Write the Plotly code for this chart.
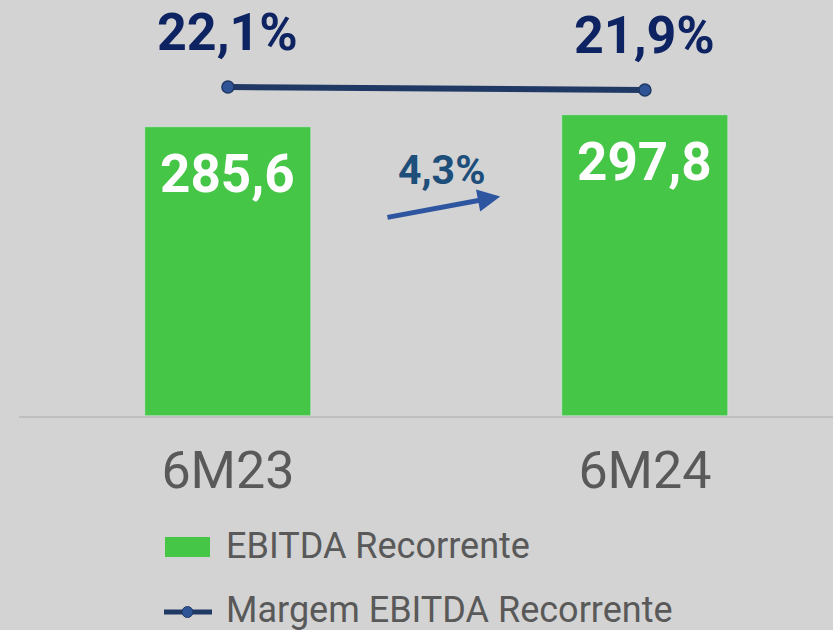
import plotly.graph_objects as go

categories = ["6M23", "6M24"]
ebitda = [285.6, 297.8]
margem = [22.1, 21.9]
growth_label = "4,3%"
series_names = ["EBITDA Recorrente", "Margem EBITDA Recorrente"]

BG = "#d3d3d3"
GREEN = "#46c646"
NAVY = "#0e2361"
LINE = "#1f3864"
MARK = "#2f5597"
GRAY = "#595959"

def br(v, d=1):
    return f"{v:.{d}f}".replace(".", ",")

xs = list(range(len(categories)))

fig = go.Figure()
fig.add_trace(go.Bar(x=xs, y=ebitda, name=series_names[0], marker_color=GREEN,
                     width=0.40, showlegend=False, hoverinfo="skip"))
fig.add_trace(go.Scatter(x=xs, y=margem, name=series_names[1], yaxis="y2",
                         mode="lines+markers",
                         line=dict(color=LINE, width=6),
                         marker=dict(size=12, color=MARK, line=dict(color=LINE, width=1.5)),
                         showlegend=False, hoverinfo="skip"))

ann = []
for i, v in enumerate(ebitda):
    ann.append(dict(x=xs[i], y=v, xref="x", yref="y", text=f"<b>{br(v)}</b>",
                    showarrow=False, yshift=-47, yanchor="middle",
                    font=dict(family="Roboto", size=53, color="white")))
for i, v in enumerate(margem):
    ann.append(dict(x=xs[i], y=v, xref="x", yref="y2", text=f"<b>{br(v)}%</b>",
                    showarrow=False, yshift=55, yanchor="middle",
                    font=dict(family="Roboto", size=52, color=NAVY)))

# growth arrow between bars
ann.append(dict(x=0.653, y=217, xref="x", yref="y", ax=0.379, ay=196, axref="x", ayref="y",
                text="", showarrow=True, arrowhead=2, arrowsize=0.9, arrowwidth=5,
                arrowcolor="#2e55a0"))
ann.append(dict(x=0.511, y=243, xref="x", yref="y", text=f"<b>{growth_label}</b>",
                showarrow=False, yanchor="middle",
                font=dict(family="Roboto", size=41, color="#1e4e7a")))

# custom legend
W, H, L, T = 833, 630, 19, 0
PH = 416
PW = W - L
def px(x): return (x - L) / PW
def py(y): return (PH - y) / PH

shapes = [
    dict(type="rect", xref="paper", yref="paper", x0=px(165), x1=px(210), y0=py(557), y1=py(537),
         fillcolor=GREEN, line=dict(width=0)),
    dict(type="line", xref="paper", yref="paper", x0=px(164), x1=px(212), y0=py(612), y1=py(612),
         line=dict(color=LINE, width=5)),
    dict(type="circle", xref="paper", yref="paper", x0=px(182), x1=px(193), y0=py(617.5), y1=py(606.5),
         fillcolor=MARK, line=dict(color=LINE, width=1)),
]
ann.append(dict(x=px(224), y=py(546), xref="paper", yref="paper", text=series_names[0],
                showarrow=False, xanchor="left", yanchor="middle",
                font=dict(family="Roboto", size=36, color=GRAY)))
ann.append(dict(x=px(224), y=py(610), xref="paper", yref="paper", text=series_names[1],
                showarrow=False, xanchor="left", yanchor="middle",
                font=dict(family="Roboto", size=36, color=GRAY)))

fig.update_layout(
    width=W, height=H,
    paper_bgcolor=BG, plot_bgcolor=BG,
    margin=dict(l=L, r=0, t=T, b=H - PH),
    bargap=0,
    xaxis=dict(tickmode="array", tickvals=xs, ticktext=categories, range=[-0.501, 1.451],
               showline=True, linecolor="#bfbfbf", linewidth=2, showgrid=False, zeroline=False,
               ticks="outside", ticklen=8, tickcolor="rgba(0,0,0,0)",
               tickfont=dict(family="Roboto", size=52, color=GRAY), fixedrange=True),
    yaxis=dict(range=[0, 411.1], visible=False, showgrid=False, zeroline=False),
    yaxis2=dict(range=[0.17, 27.9], overlaying="y", visible=False, showgrid=False, zeroline=False),
    annotations=ann,
    shapes=shapes,
    showlegend=False,
)

fig.write_html("out.html", config={"displayModeBar": False},
               post_script="document.body.style.margin='0px';document.body.style.overflow='hidden';")
